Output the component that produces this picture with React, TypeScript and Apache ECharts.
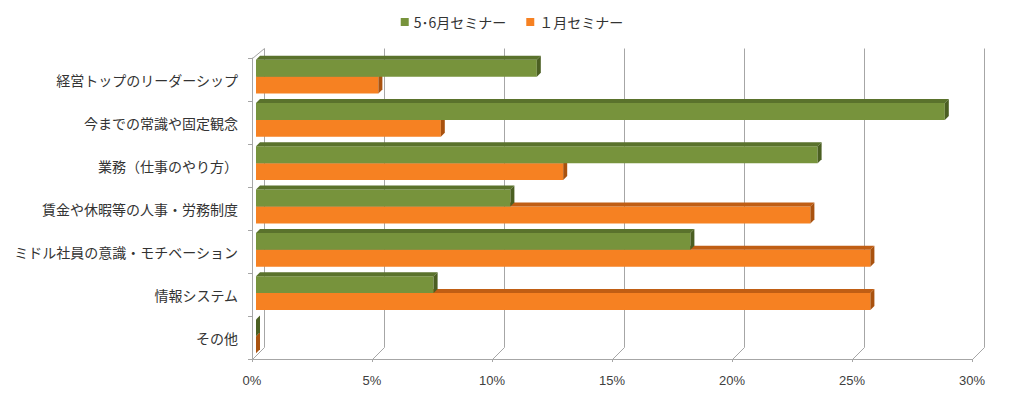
import React, { useEffect, useRef } from "react";
import * as echarts from "echarts";

const categories = [
  "経営トップのリーダーシップ",
  "今までの常識や固定観念",
  "業務（仕事のやり方）",
  "賃金や休暇等の人事・労務制度",
  "ミドル社員の意識・モチベーション",
  "情報システム",
  "その他",
];
const seriesNames = ["5･6月セミナー", "１月セミナー"];
const greenValues = [11.7, 28.7, 23.4, 10.6, 18.1, 7.4, 0];
const orangeValues = [5.1, 7.7, 12.8, 23.1, 25.6, 25.6, 0];
const xTicks = [0, 5, 10, 15, 20, 25, 30];

const GREEN = { front: "#77933C", top: "#5A722C", side: "#4B5F22" };
const ORANGE = { front: "#F68122", top: "#C05E14", side: "#A9520F" };
const DEPTH = 4;
const BACK_DX = 12;
const BACK_DY = 12;
const BACK_TOP = 48;
const GRID_COLOR = "#A6A6A6";

function barRenderer(isUpper: boolean, col: { front: string; top: string; side: string }) {
  return (params: any, api: any) => {
    const val = api.value(0);
    const cat = api.value(1);
    const p0 = api.coord([0, cat]);
    const p1 = api.coord([val, cat]);
    const band = api.size([0, 1])[1];
    const h = band * 0.39;
    const c = p0[1];
    const y0 = isUpper ? c - h : c;
    const y1 = y0 + h;
    const x0 = p0[0];
    const x1 = p1[0];
    const d = DEPTH;
    return {
      type: "group",
      children: [
        { type: "rect", shape: { x: x0, y: y0, width: Math.max(0, x1 - x0), height: h }, style: { fill: col.front } },
        {
          type: "polygon",
          shape: { points: [[x0, y0], [x1, y0], [x1 + d, y0 - d], [x0 + d, y0 - d]] },
          style: { fill: col.top },
        },
        {
          type: "polygon",
          shape: { points: [[x1, y0], [x1 + d, y0 - d], [x1 + d, y1 - d], [x1, y1]] },
          style: { fill: col.side },
        },
      ],
    };
  };
}

function wallRenderer(params: any, api: any) {
  const v = api.value(0);
  const cs = params.coordSys;
  const x = Math.round(api.coord([v, 0])[0]) + 0.5;
  const yf = cs.y + cs.height + 0.5;
  const children: any[] = [
    {
      type: "polyline",
      shape: { points: [[x, yf], [x + BACK_DX, yf - BACK_DY], [x + BACK_DX, BACK_TOP + 0.5]] },
      style: { stroke: GRID_COLOR, lineWidth: 1, fill: null },
    },
  ];
  if (v === 0) {
    children.push({
      type: "line",
      shape: { x1: x, y1: cs.y + 0.5, x2: x + BACK_DX, y2: BACK_TOP + 0.5 },
      style: { stroke: GRID_COLOR, lineWidth: 1 },
    });
  }
  return { type: "group", children };
}

export default function App() {
  const ref = useRef<HTMLDivElement>(null);
  useEffect(() => {
    if (!ref.current) return;
    const chart = echarts.init(ref.current, null, { renderer: "svg" });
    const jpFont = "'Noto Sans CJK JP', 'Noto Sans', sans-serif";
    chart.setOption({
      animation: false,
      backgroundColor: "#ffffff",
      legend: {
        top: 10,
        left: "center",
        itemWidth: 8,
        itemHeight: 8,
        itemGap: 20,
        icon: "rect",
        data: seriesNames,
        textStyle: { fontFamily: jpFont, fontSize: 14, color: "#333333" },
      },
      grid: [
        { left: 252, top: 58, width: 720, height: 301 },
        { left: 256, top: 55, width: 720, height: 303 },
      ],
      xAxis: [
        {
          gridIndex: 0,
          type: "value",
          min: 0,
          max: 30,
          interval: 5,
          axisLine: { show: true, lineStyle: { color: GRID_COLOR } },
          axisTick: { show: true, length: 3, lineStyle: { color: GRID_COLOR } },
          splitLine: { show: false },
          axisLabel: {
            formatter: (v: number) => `${v}%`,
            margin: 15,
            fontFamily: "'Liberation Sans Narrow', 'Liberation Sans', sans-serif",
            fontSize: 13,
            color: "#404040",
          },
        },
        {
          gridIndex: 1,
          type: "value",
          min: 0,
          max: 30,
          interval: 5,
          show: false,
        },
      ],
      yAxis: [
        {
          gridIndex: 0,
          type: "category",
          inverse: true,
          data: categories,
          axisLine: { show: true, lineStyle: { color: GRID_COLOR } },
          axisTick: { show: true, length: 4, lineStyle: { color: GRID_COLOR } },
          axisLabel: { margin: 14, fontFamily: jpFont, fontSize: 14, color: "#333333" },
        },
        {
          gridIndex: 1,
          type: "category",
          inverse: true,
          data: categories,
          show: false,
        },
      ],
      series: [
        {
          type: "custom",
          name: "walls",
          xAxisIndex: 0,
          yAxisIndex: 0,
          z: 1,
          silent: true,
          data: xTicks.map((v) => [v, 0]),
          encode: { x: 0, y: 1 },
          renderItem: wallRenderer,
        },
        {
          type: "custom",
          name: seriesNames[0],
          xAxisIndex: 1,
          yAxisIndex: 1,
          z: 4,
          itemStyle: { color: GREEN.front },
          data: greenValues.map((v, i) => [v, i]),
          encode: { x: 0, y: 1 },
          renderItem: barRenderer(true, GREEN),
        },
        {
          type: "custom",
          name: seriesNames[1],
          xAxisIndex: 1,
          yAxisIndex: 1,
          z: 3,
          itemStyle: { color: ORANGE.front },
          data: orangeValues.map((v, i) => [v, i]),
          encode: { x: 0, y: 1 },
          renderItem: barRenderer(false, ORANGE),
        },
      ],
    });
    return () => chart.dispose();
  }, []);
  return (
    <div
      ref={ref}
      style={{ position: "fixed", left: 0, top: 0, width: 1024, height: 398 }}
    />
  );
}
